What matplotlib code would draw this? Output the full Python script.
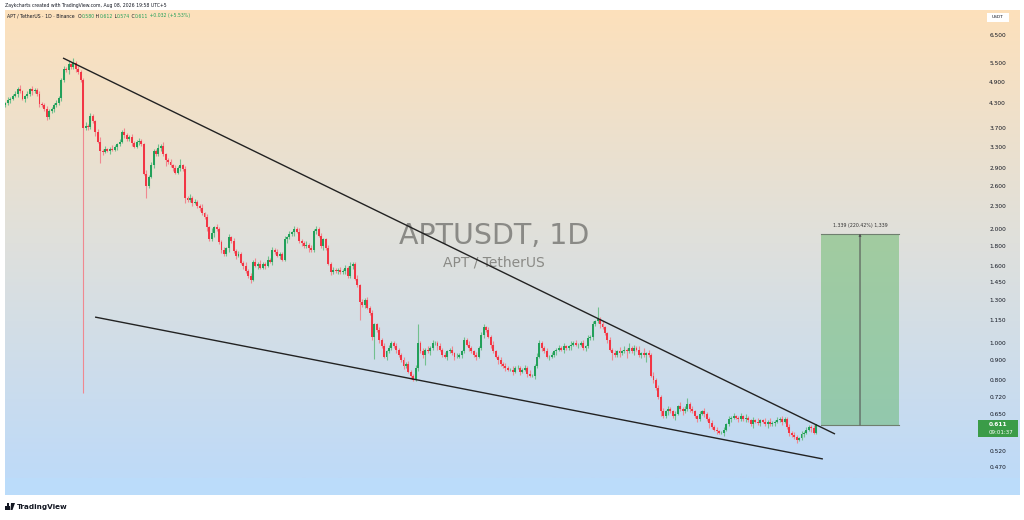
import datetime as dt
import numpy as np
import matplotlib
matplotlib.use("Agg")
import matplotlib.pyplot as plt
from matplotlib.colors import LinearSegmentedColormap
from matplotlib.patches import Rectangle, Polygon
from matplotlib.ticker import NullLocator

W, H = 1024, 520

# ── Data ──────────────────────────────────────────────────────────────────────
START = dt.date(2025, 9, 8)
FIRST_OPEN = 4.25
CLOSES = [
    4.30, 4.38, 4.42, 4.50, 4.55, 4.70, 4.62, 4.42, 4.48, 4.55,
    4.68, 4.62, 4.66, 4.55, 4.28, 4.25, 4.15, 3.95, 4.10, 4.15,
    4.25, 4.30, 4.45, 4.95, 5.30, 5.25, 5.45, 5.35, 5.50, 5.30,
    5.20, 4.95, 3.70, 3.75, 3.72, 3.98, 3.85, 3.60, 3.40, 3.22,
    3.20, 3.25, 3.22, 3.26, 3.24, 3.30, 3.35, 3.40, 3.62, 3.55,
    3.45, 3.50, 3.38, 3.30, 3.40, 3.42, 3.35, 2.80, 2.60, 2.75,
    2.95, 3.22, 3.15, 3.28, 3.32, 3.15, 3.05, 3.00, 2.95, 2.90,
    2.82, 2.90, 2.95, 2.88, 2.42, 2.38, 2.42, 2.35, 2.36, 2.30,
    2.28, 2.20, 2.15, 2.02, 1.88, 1.95, 2.02, 2.00, 1.85, 1.76,
    1.72, 1.78, 1.90, 1.86, 1.75, 1.70, 1.72, 1.63, 1.60, 1.55,
    1.50, 1.47, 1.64, 1.60, 1.62, 1.58, 1.62, 1.60, 1.66, 1.64,
    1.76, 1.74, 1.70, 1.72, 1.66, 1.88, 1.90, 1.94, 1.96, 2.00,
    1.97, 1.86, 1.84, 1.80, 1.82, 1.78, 1.76, 1.98, 2.00, 1.92,
    1.80, 1.88, 1.78, 1.62, 1.54, 1.56, 1.55, 1.56, 1.54, 1.55,
    1.58, 1.50, 1.60, 1.62, 1.48, 1.42, 1.28, 1.26, 1.30, 1.24,
    1.20, 1.04, 1.12, 1.08, 1.02, 0.98, 0.92, 0.95, 0.97, 1.00,
    0.98, 0.96, 0.93, 0.90, 0.87, 0.88, 0.84, 0.82, 0.80, 0.86,
    1.00, 0.95, 0.93, 0.96, 0.95, 0.97, 1.00, 1.00, 0.98, 0.96,
    0.93, 0.92, 0.95, 0.96, 0.94, 0.92, 0.92, 0.93, 0.95, 1.02,
    0.99, 0.97, 0.95, 0.93, 0.92, 0.97, 1.05, 1.10, 1.08, 1.04,
    0.99, 0.95, 0.92, 0.90, 0.88, 0.87, 0.86, 0.85, 0.85, 0.84,
    0.86, 0.86, 0.84, 0.85, 0.86, 0.83, 0.82, 0.82, 0.87, 0.92,
    1.00, 0.97, 0.95, 0.92, 0.92, 0.93, 0.95, 0.96, 0.97, 0.96,
    0.98, 0.97, 0.98, 0.99, 1.00, 0.99, 0.99, 1.00, 0.97, 0.98,
    1.03, 1.04, 1.12, 1.14, 1.16, 1.12, 1.10, 1.06, 1.02, 0.96,
    0.94, 0.93, 0.95, 0.94, 0.95, 0.96, 0.95, 0.97, 0.95, 0.97,
    0.96, 0.93, 0.94, 0.93, 0.94, 0.93, 0.82, 0.80, 0.76, 0.72,
    0.66, 0.64, 0.66, 0.67, 0.66, 0.64, 0.65, 0.68, 0.67, 0.66,
    0.67, 0.69, 0.67, 0.66, 0.64, 0.63, 0.65, 0.66, 0.65, 0.63,
    0.615, 0.60, 0.59, 0.585, 0.58, 0.58, 0.59, 0.61, 0.63, 0.635,
    0.64, 0.635, 0.63, 0.64, 0.63, 0.635, 0.625, 0.61, 0.625, 0.62,
    0.615, 0.625, 0.62, 0.61, 0.62, 0.61, 0.615, 0.62, 0.625, 0.63,
    0.62, 0.63, 0.60, 0.58, 0.57, 0.565, 0.555, 0.56, 0.575, 0.58,
    0.59, 0.60, 0.595, 0.58, 0.611,
]
# wick length in % beyond the body (upper / lower)
UP_WICK = [
    1, 2, 1, 1, 2, 1, 2, 1, 1, 2, 1, 2, 1, 1, 2, 1, 1, 2, 1, 1,
    1, 2, 1, 1, 2, 1, 2, 1, 3, 1, 2, 1, 1, 2, 1, 2, 1, 1, 2, 3,
    1, 2, 1, 1, 2, 1, 1, 2, 1, 2, 1, 1, 2, 1, 1, 2, 1, 1, 2, 1,
    2, 1, 1, 2, 1, 2, 1, 1, 2, 1, 2, 1, 4, 1, 2, 1, 2, 1, 2, 1,
    1, 2, 1, 2, 1, 3, 1, 2, 1, 1, 2, 1, 2, 1, 2, 1, 2, 1, 1, 2,
    1, 2, 1, 2, 1, 2, 1, 1, 2, 1, 2, 1, 2, 1, 1, 2, 1, 2, 1, 2,
    1, 2, 1, 1, 2, 1, 2, 1, 2, 1, 2, 1, 1, 2, 1, 2, 1, 1, 2, 1,
    2, 1, 2, 1, 1, 2, 1, 2, 1, 2, 1, 2, 1, 1, 2, 1, 2, 1, 2, 1,
    1, 2, 1, 1, 2, 1, 2, 1, 1, 2, 12, 1, 2, 1, 2, 1, 2, 1, 1, 2,
    1, 2, 1, 1, 2, 1, 2, 1, 1, 2, 1, 2, 1, 1, 2, 1, 2, 2, 1, 2,
    1, 2, 1, 1, 2, 1, 2, 1, 1, 2, 1, 2, 1, 1, 2, 1, 2, 1, 1, 2,
    2, 1, 1, 2, 1, 2, 1, 1, 2, 1, 2, 1, 1, 2, 1, 2, 1, 1, 2, 1,
    2, 1, 2, 1, 7, 1, 2, 1, 1, 2, 1, 2, 1, 3, 1, 2, 1, 3, 1, 2,
    1, 2, 1, 3, 1, 2, 1, 2, 1, 2, 1, 2, 1, 2, 1, 1, 2, 1, 3, 1,
    2, 4, 1, 2, 1, 1, 2, 1, 2, 1, 1, 2, 1, 2, 1, 1, 2, 1, 2, 1,
    2, 1, 1, 2, 1, 2, 1, 1, 2, 1, 2, 1, 1, 2, 1, 2, 1, 1, 2, 1,
    2, 1, 1, 2, 1, 2, 1, 1, 2, 1, 2, 1, 1, 2, 0.2,
]
DN_WICK = [
    1, 1, 2, 1, 1, 2, 1, 1, 2, 1, 1, 2, 1, 1, 2, 1, 1, 2, 1, 1,
    2, 1, 1, 2, 1, 1, 2, 1, 1, 2, 1, 1, 80, 1, 2, 1, 1, 2, 1, 7,
    2, 1, 1, 2, 1, 1, 2, 1, 1, 2, 1, 1, 2, 1, 1, 2, 1, 1, 7, 1,
    1, 2, 1, 1, 2, 1, 4, 1, 1, 2, 1, 1, 2, 1, 3, 1, 1, 2, 1, 1,
    2, 1, 1, 2, 1, 1, 2, 1, 1, 2, 1, 1, 2, 1, 1, 2, 1, 1, 2, 1,
    1, 2, 1, 1, 2, 1, 1, 2, 1, 1, 2, 1, 1, 2, 1, 1, 2, 1, 1, 2,
    1, 1, 2, 1, 1, 2, 1, 1, 2, 1, 1, 2, 1, 1, 2, 1, 1, 2, 1, 1,
    2, 1, 1, 2, 1, 1, 10, 1, 2, 1, 1, 2, 13, 1, 2, 1, 1, 2, 1, 1,
    1, 2, 1, 1, 2, 1, 1, 2, 1, 1, 2, 1, 2, 6, 1, 2, 1, 1, 2, 1,
    1, 1, 2, 1, 1, 2, 1, 1, 2, 1, 1, 2, 1, 1, 2, 1, 1, 2, 1, 1,
    2, 1, 1, 2, 1, 1, 2, 1, 1, 2, 1, 1, 2, 1, 1, 2, 1, 1, 2, 1,
    1, 2, 1, 1, 2, 1, 1, 2, 1, 1, 2, 1, 1, 2, 1, 1, 2, 1, 1, 2,
    1, 1, 2, 1, 1, 2, 1, 1, 2, 1, 4, 1, 1, 2, 1, 1, 4, 1, 1, 2,
    1, 1, 2, 1, 4, 1, 1, 2, 1, 1, 3, 1, 1, 2, 1, 1, 2, 1, 1, 2,
    1, 1, 2, 1, 1, 2, 1, 1, 2, 1, 3, 1, 1, 2, 1, 1, 2, 1, 1, 2,
    1, 1, 2, 1, 1, 2, 1, 1, 2, 1, 1, 2, 1, 1, 2, 1, 1, 2, 1, 1,
    2, 1, 1, 2, 1, 1, 2, 1, 1, 2, 1, 1, 2, 1, 1,
]

PRICE_TICKS = [6.5, 5.5, 4.9, 4.3, 3.7, 3.3, 2.9, 2.6, 2.3, 2.0, 1.8, 1.6,
               1.45, 1.3, 1.15, 1.0, 0.9, 0.8, 0.72, 0.65, 0.52, 0.47]
MONTH_STARTS = [dt.date(2025, 10, 1), dt.date(2025, 11, 1), dt.date(2025, 12, 1),
                dt.date(2026, 1, 1), dt.date(2026, 2, 1), dt.date(2026, 3, 1),
                dt.date(2026, 4, 1), dt.date(2026, 5, 1), dt.date(2026, 6, 1),
                dt.date(2026, 7, 1), dt.date(2026, 8, 1), dt.date(2026, 9, 1),
                dt.date(2026, 10, 1)]
MONTH_LABELS = ["Oct", "Nov", "Dec", "2026", "Feb", "Mar", "Apr", "May",
                "Jun", "Jul", "Aug", "Sep", "Oct"]

# trend lines: (day offset from START, price)
UPPER_LINE = [(23.7, 5.66), (341.8, 0.575)]
LOWER_LINE = [(36.9, 1.171), (336.8, 0.494)]
# projection box
BOX_DAYS = (336.0, 368.2)
BOX_LOW, BOX_HIGH = 0.6075, 1.9465
BOX_TEXT = "1.339 (220.42%) 1,339"
LAST_PRICE, LAST_TIME = 0.611, "09:01:37"

# ── Colours ───────────────────────────────────────────────────────────────────
UP_C = "#22a05a"
DN_C = "#f23645"
UP_WICK_C = "#72c08e"
DN_WICK_C = "#f08890"
TXT = "#131722"

fig = plt.figure(figsize=(W / 100, H / 100), dpi=100)
fig.patch.set_facecolor("white")


def fx(x):
    return x / W


def fy(y):
    return 1 - y / H


# background gradient for the pane
bg = fig.add_axes([fx(5), fy(478), fx(1015), 468 / H])
grad = LinearSegmentedColormap.from_list(
    "tvbg", [(0, "#bedaf8"), (0.5, "#dfe0dc"), (1, "#fde1bb")])
bg.imshow(np.linspace(0, 1, 256).reshape(-1, 1), aspect="auto", cmap=grad,
          origin="lower", extent=[0, 1, 0, 1])
bg.set_axis_off()

# time-axis strip
fig.patches.append(Rectangle((fx(5), fy(495)), fx(1015), 17 / H,
                             transform=fig.transFigure, facecolor="#bbdcfa",
                             edgecolor="none", zorder=0))

ax = fig.add_axes([fx(5), fy(478), fx(955), 468 / H])
ax.set_facecolor("none")
ax.set_yscale("log")
ax.set_ylim(0.44, 7.58)
ax.set_xlim(-0.206, 393.3)
for s in ax.spines.values():
    s.set_visible(False)

# ── Candles ───────────────────────────────────────────────────────────────────
closes = np.array(CLOSES)
opens = np.array([FIRST_OPEN] + CLOSES[:-1])
top = np.maximum(opens, closes)
bot = np.minimum(opens, closes)
highs = top * (1 + np.array(UP_WICK) / 100)
lows = bot * (1 - np.array(DN_WICK) / 100)
idx = np.arange(len(closes))
rising = closes >= opens
cols = np.where(rising, UP_C, DN_C)
wick_cols = np.where(rising, UP_WICK_C, DN_WICK_C)

ax.vlines(idx, lows, highs, colors=wick_cols, linewidth=0.8, zorder=2)
ax.bar(idx, top - bot, bottom=bot, width=0.8, color=cols, linewidth=0, zorder=3)

# ── Trend lines ───────────────────────────────────────────────────────────────
for line in (UPPER_LINE, LOWER_LINE):
    ax.plot([p[0] for p in line], [p[1] for p in line], color="#222222",
            linewidth=1.0, solid_capstyle="butt", zorder=4)

# ── Projection box ────────────────────────────────────────────────────────────
ax.add_patch(Rectangle((BOX_DAYS[0], BOX_LOW), BOX_DAYS[1] - BOX_DAYS[0],
                       BOX_HIGH - BOX_LOW, facecolor=(0.30, 0.69, 0.31, 0.42),
                       edgecolor="none", zorder=1))
ax.plot(BOX_DAYS, [BOX_HIGH, BOX_HIGH], color="#6f7f6f", linewidth=0.8, zorder=2)
ax.plot(BOX_DAYS, [BOX_LOW, BOX_LOW], color="#6f7f6f", linewidth=0.8, zorder=2)
mid = (BOX_DAYS[0] + BOX_DAYS[1]) / 2
ax.annotate("", xy=(mid, BOX_HIGH), xytext=(mid, BOX_LOW),
            arrowprops=dict(arrowstyle="-|>", color="#555555", lw=0.8,
                            mutation_scale=3, shrinkA=0, shrinkB=0), zorder=3)
ax.text(mid, BOX_HIGH * 1.035, BOX_TEXT, ha="center", va="bottom",
        fontsize=3.4, color="#333333")

# ── Watermark ────────────────────────────────────────────────────────────────
ax.text(0.512, 1 - (236 - 10) / 468, "APTUSDT, 1D", transform=ax.transAxes,
        ha="center", va="center", fontsize=20.5, color="#8a8a86", zorder=0.5)
ax.text(0.512, 1 - (263 - 10) / 468, "APT / TetherUS", transform=ax.transAxes,
        ha="center", va="center", fontsize=10, color="#8a8a86", zorder=0.5)

# ── Axes labels ───────────────────────────────────────────────────────────────
ax.yaxis.tick_right()
ax.yaxis.set_minor_locator(NullLocator())
ax.set_yticks(PRICE_TICKS)
ax.set_yticklabels([f"{p:.3f}" for p in PRICE_TICKS])
ax.tick_params(axis="y", length=0, pad=21, labelsize=4.2, labelcolor=TXT)

month_days = [(d - START).days for d in MONTH_STARTS]
ax.set_xticks(month_days)
ax.set_xticklabels(MONTH_LABELS)
ax.tick_params(axis="x", length=0, pad=5.5, labelsize=4.2, labelcolor=TXT)
ax.get_xticklabels()[3].set_fontweight("bold")

# last price tag (pixel rows measured from the top)
ly = H - ax.transData.transform((0, LAST_PRICE))[1]
fig.patches.append(Rectangle((fx(978), fy(ly + 13)), fx(40), 17 / H,
                             transform=fig.transFigure, facecolor="#3b9c48",
                             edgecolor="none", zorder=5))
fig.text(fx(989), fy(ly + 0.5), f"{LAST_PRICE:.3f}", fontsize=4.2,
         color="white", ha="left", va="center", zorder=6, fontweight="bold")
fig.text(fx(989), fy(ly + 8), LAST_TIME, fontsize=4.0,
         color="white", ha="left", va="center", zorder=6)

# USDT tag
fig.patches.append(Rectangle((fx(987), fy(22)), fx(22), 9 / H,
                             transform=fig.transFigure, facecolor="white",
                             edgecolor="none", zorder=5))
fig.text(fx(998), fy(17.5), "USDT", fontsize=3.2, color=TXT,
         ha="center", va="center", zorder=6)

# ── Header texts ──────────────────────────────────────────────────────────────
fig.text(fx(5), fy(5.5), "Zaykcharts created with TradingView.com, Aug 08, 2026 19:58 UTC+5",
         fontsize=3.3, color=TXT, ha="left", va="center")

fig.canvas.draw()
rend = fig.canvas.get_renderer()
pieces = [("APT / TetherUS · 1D · Binance", TXT), ("  O", TXT), ("0.580", UP_C),
          (" H", TXT), ("0.612", UP_C), (" L", TXT), ("0.574", UP_C),
          (" C", TXT), ("0.611", UP_C), (" +0.032 (+5.53%)", UP_C)]
x = 7
for s, c in pieces:
    t = fig.text(fx(x), fy(16), s, fontsize=3.3, color=c, ha="left", va="center")
    x += t.get_window_extent(renderer=rend).width

# ── TradingView footer ────────────────────────────────────────────────────────
fig.patches.append(Rectangle((fx(5), fy(510)), fx(5), 4 / H, transform=fig.transFigure,
                             facecolor=TXT, edgecolor="none"))
fig.patches.append(Rectangle((fx(7), fy(510)), fx(2), 7 / H, transform=fig.transFigure,
                             facecolor=TXT, edgecolor="none"))
fig.patches.append(Polygon([(fx(11), fy(503)), (fx(15), fy(503)), (fx(12.5), fy(510)),
                            (fx(10.5), fy(510))], closed=True, transform=fig.transFigure,
                           facecolor=TXT, edgecolor="none"))
fig.text(fx(17), fy(507), "TradingView", fontsize=5.2, color=TXT, ha="left",
         va="center", fontweight="bold")

fig.savefig("out.png", dpi=100, facecolor="white")
